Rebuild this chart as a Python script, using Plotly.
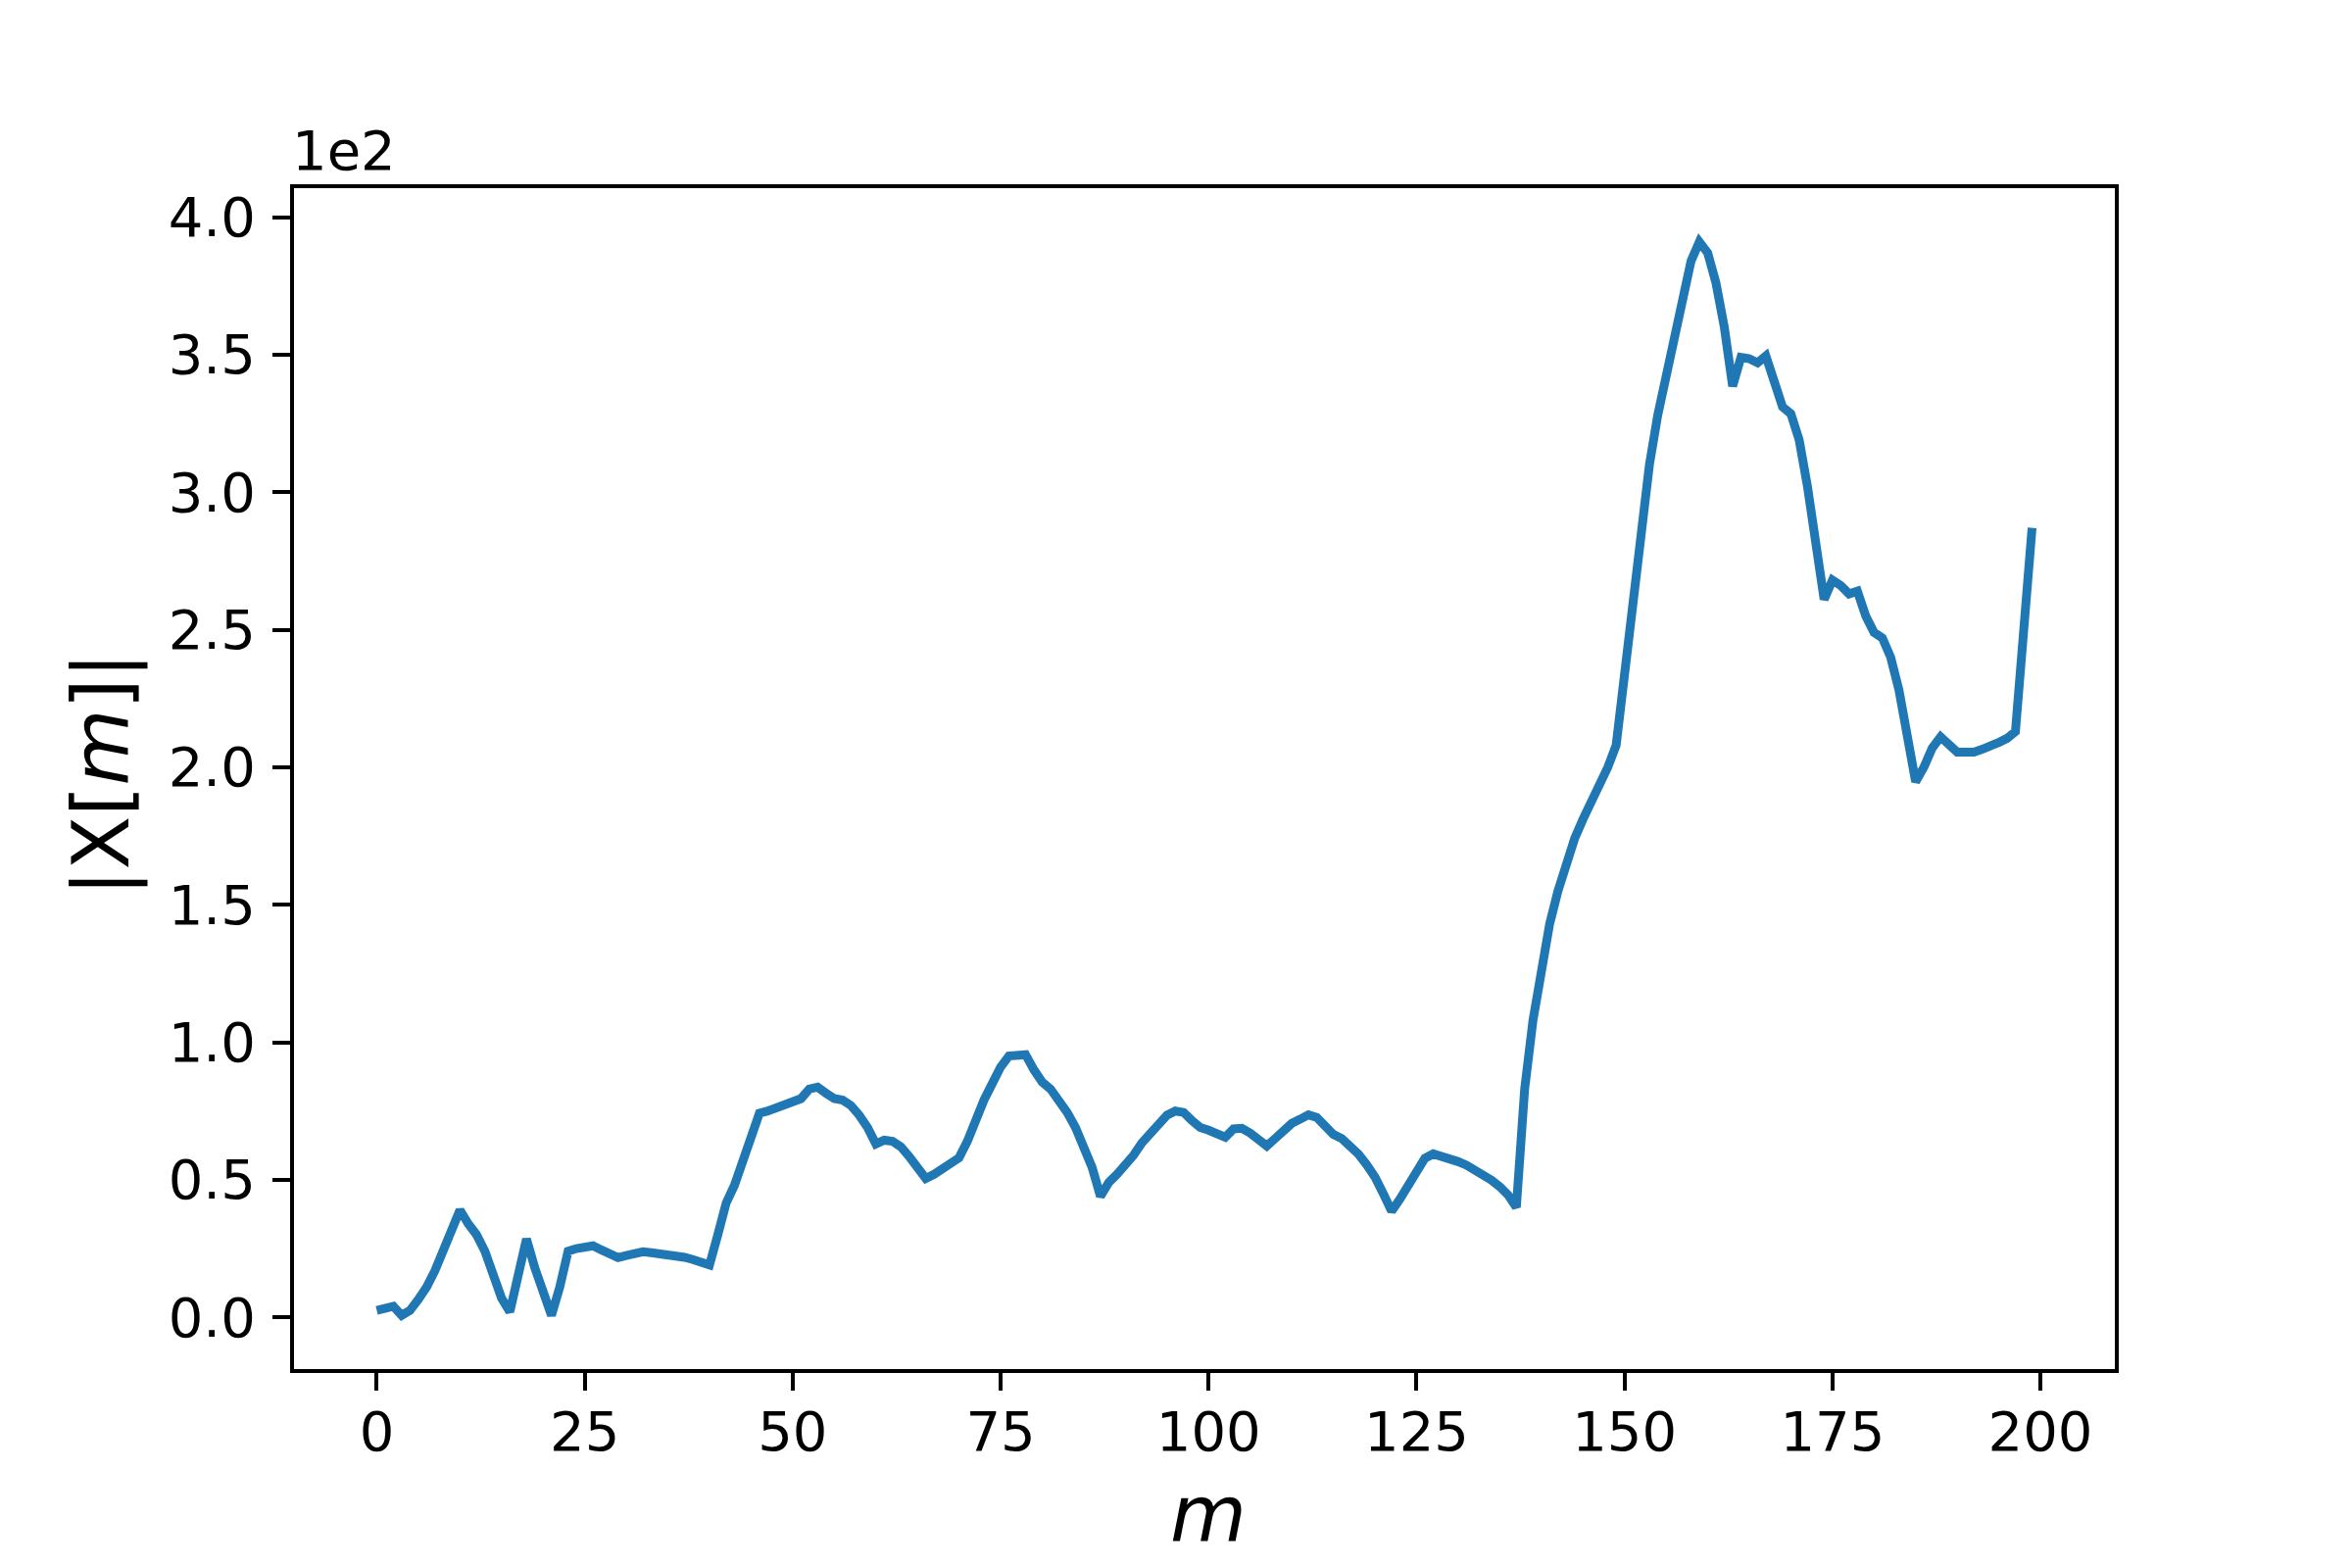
import plotly.graph_objects as go

# |X[m]| magnitudes (units of 1e2)
m_index = list(range(200))
magnitude = [
    0.025, 0.030, 0.040, 0.007, 0.025, 0.065, 0.110, 0.170, 0.240, 0.310,
    0.390, 0.340, 0.300, 0.240, 0.160, 0.070, 0.020, 0.150, 0.285, 0.180,
    0.100, 0.007, 0.110, 0.240, 0.250, 0.255, 0.260, 0.245, 0.230, 0.217,
    0.225, 0.232, 0.238, 0.235, 0.232, 0.228, 0.224, 0.218, 0.210, 0.200,
    0.190, 0.300, 0.415, 0.480, 0.560, 0.650, 0.742, 0.750, 0.760, 0.770,
    0.780, 0.795, 0.830, 0.837, 0.815, 0.795, 0.790, 0.770, 0.735, 0.690,
    0.630, 0.644, 0.640, 0.620, 0.585, 0.545, 0.505, 0.520, 0.540, 0.560,
    0.580, 0.640, 0.720, 0.790, 0.850, 0.910, 0.950, 0.955, 0.955, 0.900,
    0.855, 0.830, 0.790, 0.745, 0.690, 0.625, 0.545, 0.440, 0.490, 0.520,
    0.550, 0.590, 0.635, 0.670, 0.700, 0.735, 0.750, 0.745, 0.715, 0.690,
    0.680, 0.670, 0.655, 0.685, 0.687, 0.670, 0.645, 0.623, 0.650, 0.680,
    0.705, 0.720, 0.736, 0.727, 0.700, 0.665, 0.650, 0.625, 0.594, 0.555,
    0.510, 0.450, 0.386, 0.430, 0.480, 0.530, 0.578, 0.594, 0.587, 0.578,
    0.566, 0.553, 0.537, 0.518, 0.499, 0.475, 0.445, 0.400, 0.830, 1.080,
    1.280, 1.430, 1.550, 1.650, 1.740, 1.810, 1.870, 1.930, 2.000, 2.080,
    2.330, 2.600, 2.880, 3.100, 3.280, 3.420, 3.580, 3.700, 3.840, 3.910,
    3.870, 3.760, 3.600, 3.385, 3.490, 3.485, 3.470, 3.495, 3.410, 3.310,
    3.285, 3.190, 3.020, 2.830, 2.610, 2.680, 2.660, 2.630, 2.640, 2.550,
    2.490, 2.470, 2.400, 2.280, 2.130, 1.947, 2.000, 2.070, 2.110, 2.080,
    2.055, 2.055, 2.055, 2.065, 2.075, 2.090, 2.105, 2.130, 2.500, 2.870,
]
x_ticks = [0, 25, 50, 75, 100, 125, 150, 175, 200]
y_ticks = [0.0, 0.5, 1.0, 1.5, 2.0, 2.5, 3.0, 3.5, 4.0]

# matplotlib-like 5% margins
x_pad = 0.05 * (max(m_index) - min(m_index))
y_pad = 0.05 * (max(magnitude) - min(magnitude))

FONT = "DejaVu Sans"

fig = go.Figure(go.Scatter(
    x=m_index, y=magnitude, mode="lines",
    line=dict(color="#1f77b4", width=9),
    hoverinfo="x+y"
))

axis_style = dict(
    showline=True, linecolor="black", linewidth=4, mirror=True,
    ticks="outside", ticklen=18, tickwidth=4, tickcolor="black",
    showgrid=False, zeroline=False,
    tickfont=dict(family=FONT, size=56, color="black"),
)

fig.update_xaxes(
    range=[min(m_index) - x_pad, max(m_index) + x_pad],
    tickvals=x_ticks, ticklabelstandoff=-6, **axis_style
)
fig.update_yaxes(
    range=[min(magnitude) - y_pad, max(magnitude) + y_pad],
    tickvals=y_ticks, tickformat=".1f", ticklabelstandoff=6, **axis_style
)

# the page body adds an 8px offset, so margins are trimmed by 8 on left/top
fig.update_layout(
    width=2400, height=1600,
    margin=dict(l=292, r=250, t=184, b=211),
    plot_bgcolor="white", paper_bgcolor="white",
    showlegend=False,
    font=dict(family=FONT, color="black"),
    annotations=[
        dict(text="1e2", xref="paper", yref="paper", x=0, y=1,
             xanchor="left", yanchor="bottom", yshift=4, xshift=-4,
             showarrow=False, font=dict(family=FONT, size=56)),
        dict(text="<i>m</i>", xref="paper", yref="paper", x=0.5, y=0,
             xanchor="center", yanchor="middle", yshift=-148, xshift=4,
             showarrow=False, font=dict(family=FONT, size=80)),
        dict(text="|X[<i>m</i>]|", xref="paper", yref="paper", x=0, y=0.5,
             xanchor="center", yanchor="middle", xshift=-197, yshift=4,
             textangle=-90, showarrow=False, font=dict(family=FONT, size=80)),
    ],
)

fig.write_html("out.html")
